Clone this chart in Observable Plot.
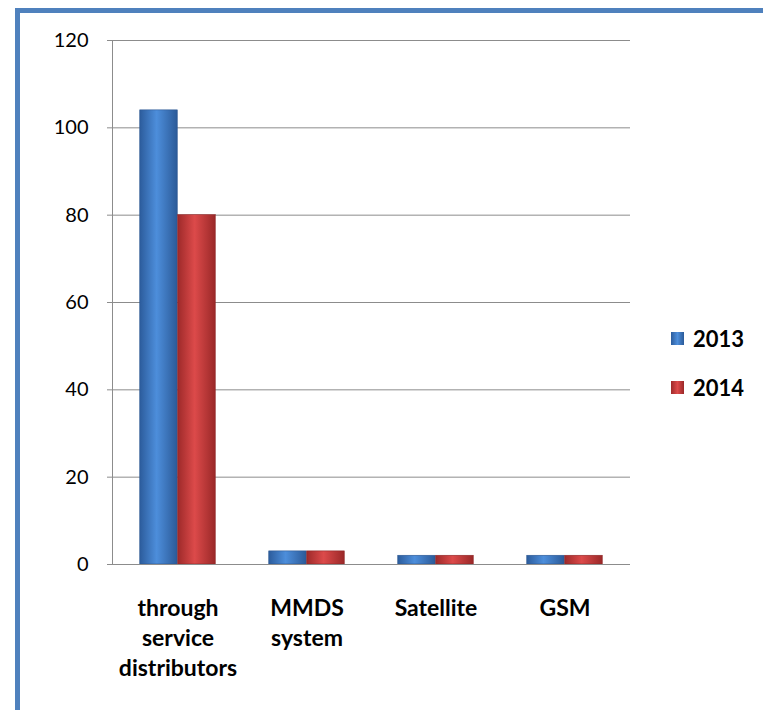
<!DOCTYPE html>
<html>
<head>
<meta charset="utf-8">
<script src="https://cdn.jsdelivr.net/npm/d3@7"></script>
<script src="https://cdn.jsdelivr.net/npm/@observablehq/plot@0.6"></script>
<style>
  html, body { margin: 0; padding: 0; background: #fff; overflow: hidden; }
  #wrap { position: relative; width: 763px; height: 710px; overflow: hidden; font-family: Lato, "Open Sans", sans-serif; }
  #border { position: absolute; left: 15px; top: 8px; width: 900px; height: 900px; border-left: 5px solid #4F81BD; border-top: 5px solid #4F81BD; box-sizing: border-box; }
  #chart { position: absolute; left: 0; top: 0; }
  .leg { position: absolute; left: 671px; display: flex; align-items: center; font-weight: bold; font-size: 22px; color: #000; }
  .leg .sw { width: 13px; height: 13px; margin-right: 9px; }
</style>
</head>
<body>
<div id="wrap">
  <div id="border"></div>
  <div id="chart"></div>
  <div id="legend"></div>
</div>
<script>
const categories = ["through service distributors", "MMDS system", "Satellite", "GSM"];
const categoryLabels = ["through\nservice\ndistributors", "MMDS\nsystem", "Satellite", "GSM"];
const years = ["2013", "2014"];
const values2013 = [104, 3, 2, 2];
const values2014 = [80, 3, 2, 2];
const yTicks = [0, 20, 40, 60, 80, 100, 120];

const colors = {"2013": ["#2C5C9C", "#4D8EDB", "#2B5A98"], "2014": ["#9E2A2A", "#DC4A4A", "#9A2828"]};

const rows2013 = categories.map((c, i) => ({category: c, year: years[0], value: values2013[i]}));
const rows2014 = categories.map((c, i) => ({category: c, year: years[1], value: values2014[i]}));

const band = (763 - 112 - 133) / categories.length;
const barW = 38;

const plot = Plot.plot({
  width: 763,
  height: 710,
  marginLeft: 112,
  marginRight: 133,
  marginTop: 40,
  marginBottom: 146,
  style: {fontFamily: "Lato, 'Open Sans', sans-serif", fontSize: "20px", color: "#000", background: "transparent"},
  x: {domain: categories, padding: 0, axis: null, label: null},
  y: {domain: [0, 120], axis: null, label: null},
  marks: [
    Plot.gridY(yTicks, {stroke: "#8C8C8C", strokeOpacity: 1}),
    Plot.frame({anchor: "left", stroke: "#8C8C8C"}),
    Plot.axisY(yTicks, {label: null, tickSize: 5, tickPadding: 19, stroke: "#8C8C8C", fill: "#000", fontSize: 20, tickFormat: d => String(d)}),
    Plot.barY(rows2013, {x: "category", y: "value", fill: "url(#grad2013)", insetLeft: band / 2 - barW, insetRight: band / 2, stroke: "#2A5590", strokeWidth: 0.6}),
    Plot.barY(rows2014, {x: "category", y: "value", fill: "url(#grad2014)", insetLeft: band / 2, insetRight: band / 2 - barW, stroke: "#8E2525", strokeWidth: 0.6}),
    Plot.ruleY([0], {stroke: "#8C8C8C"}),
    Plot.axisX({label: null, tickSize: 0, tickPadding: 30, fontWeight: "bold", fontSize: 23, lineHeight: 1.3, fill: "#000", tickFormat: (d) => categoryLabels[categories.indexOf(d)]})
  ]
});

// gradients for the glossy bars
const ns = "http://www.w3.org/2000/svg";
const defs = document.createElementNS(ns, "defs");
for (const y of years) {
  const g = document.createElementNS(ns, "linearGradient");
  g.setAttribute("id", "grad" + y);
  g.setAttribute("x1", "0"); g.setAttribute("x2", "1"); g.setAttribute("y1", "0"); g.setAttribute("y2", "0");
  [[0, colors[y][0]], [0.45, colors[y][1]], [1, colors[y][2]]].forEach(([o, c]) => {
    const s = document.createElementNS(ns, "stop");
    s.setAttribute("offset", o); s.setAttribute("stop-color", c);
    g.appendChild(s);
  });
  defs.appendChild(g);
}
plot.insertBefore(defs, plot.firstChild);
document.getElementById("chart").appendChild(plot);

// legend
const legend = document.getElementById("legend");
const legendTops = {"2013": 325, "2014": 374};
for (const y of years) {
  const item = document.createElement("div");
  item.className = "leg";
  item.style.top = legendTops[y] + "px";
  const sw = document.createElement("div");
  sw.className = "sw";
  sw.style.background = `linear-gradient(90deg, ${colors[y][0]}, ${colors[y][1]}, ${colors[y][2]})`;
  const t = document.createElement("span");
  t.textContent = y;
  item.appendChild(sw); item.appendChild(t);
  legend.appendChild(item);
}
</script>
</body>
</html>
